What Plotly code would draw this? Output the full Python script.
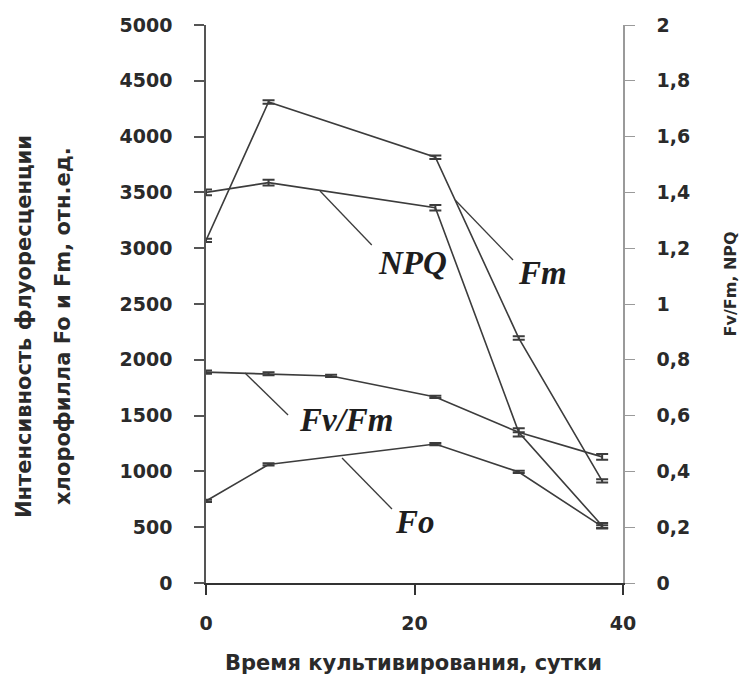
import plotly.graph_objects as go

# ---- data ----
days = [0, 6, 22, 30, 38]
fm = [3070, 4310, 3815, 2195, 915]
fm_err = [15, 15, 15, 15, 15]
fo = [735, 1062, 1245, 995, 505]
fo_err = [10, 10, 10, 10, 12]
npq = [1.40, 1.435, 1.345, 0.54, 0.205]
npq_err = [0.01, 0.01, 0.01, 0.0, 0.01]
days_fvfm = [0, 6, 12, 22, 30, 38]
fvfm = [0.756, 0.75, 0.742, 0.667, 0.54, 0.452]
fvfm_err = [0.006, 0.005, 0.004, 0.004, 0.015, 0.01]

left_ticks = [0, 500, 1000, 1500, 2000, 2500, 3000, 3500, 4000, 4500, 5000]
right_ticks = [0, 0.2, 0.4, 0.6, 0.8, 1.0, 1.2, 1.4, 1.6, 1.8, 2.0]
right_ticktext = ["0", "0,2", "0,4", "0,6", "0,8", "1", "1,2", "1,4", "1,6", "1,8", "2"]
x_ticks = [0, 20, 40]

LINE = "#3c3c3c"
TICKFONT = dict(family="DejaVu Sans", size=19, color="#2a2a2a", weight="bold")
LABELFONT = dict(family="Liberation Serif", size=33, color="#1e1e1e", weight="bold", style="italic")

fig = go.Figure()

def series(x, y, err, yaxis):
    fig.add_trace(go.Scatter(
        x=x, y=y, mode="lines", yaxis=yaxis,
        line=dict(color=LINE, width=1.6),
        error_y=dict(type="data", array=err, width=6, thickness=2, color=LINE),
        showlegend=False, hoverinfo="skip"))

series(days, fm, fm_err, "y")
series(days, fo, fo_err, "y")
series(days, npq, npq_err, "y2")
series(days_fvfm, fvfm, fvfm_err, "y2")

# leader lines (data coords on left axis)
leaders = [
    ((10.94, 3513), (15.9, 3029)),   # NPQ
    ((23.9, 3432), (29.45, 2894)),   # Fm
    ((3.74, 1882), (7.87, 1505)),    # Fv/Fm
    ((13.05, 1120), (17.84, 663)),   # Fo
]
for (x0, y0), (x1, y1) in leaders:
    fig.add_shape(type="line", xref="x", yref="y", x0=x0, y0=y0, x1=x1, y1=y1,
                  line=dict(color=LINE, width=1.3))

labels = [("NPQ", 19.76, 2867), ("Fm", 32.3, 2778), ("Fv/Fm", 13.5, 1460), ("Fo", 20.05, 547)]
for txt, x, y in labels:
    fig.add_annotation(text=txt, x=x, y=y, xref="x", yref="y", showarrow=False,
                       font=LABELFONT, xanchor="center", yanchor="middle")

# axis titles
TITLEFONT = dict(family="DejaVu Sans", size=21, color="#2a2a2a", weight="bold")
fig.add_annotation(text="Интенсивность флуоресценции", xref="paper", yref="paper",
                   x=-0.4365, y=0.4606, textangle=-90, showarrow=False, font=TITLEFONT,
                   xanchor="center", yanchor="middle")
fig.add_annotation(text="хлорофилла Fo и Fm, отн.ед.", xref="paper", yref="paper",
                   x=-0.343, y=0.4606, textangle=-90, showarrow=False, font=TITLEFONT,
                   xanchor="center", yanchor="middle")
fig.add_annotation(text="Fv/Fm, NPQ", xref="paper", yref="paper",
                   x=1.2566, y=0.535, textangle=-90, showarrow=False,
                   font=dict(family="DejaVu Sans", size=16, color="#2a2a2a", weight="bold"),
                   xanchor="center", yanchor="middle")
fig.add_annotation(text="Время культивирования, сутки", xref="paper", yref="paper",
                   x=0.497, y=-0.1436, showarrow=False, font=TITLEFONT,
                   xanchor="center", yanchor="middle")

fig.update_layout(
    width=749, height=677,
    margin=dict(l=206, r=126, t=25, b=94),
    paper_bgcolor="white", plot_bgcolor="white",
    xaxis=dict(range=[0, 40], tickvals=x_ticks, showgrid=False, zeroline=False,
               showline=True, linecolor="#333333", linewidth=1.5,
               ticks="outside", ticklen=10, tickwidth=1.5, tickcolor="#333333",
               tickfont=TICKFONT, ticklabelstandoff=12),
    yaxis=dict(range=[0, 5000], tickvals=left_ticks, showgrid=False, zeroline=False,
               showline=True, linecolor="#555555", linewidth=1.5,
               ticks="outside", ticklen=10, tickwidth=1.5, tickcolor="#555555",
               tickfont=TICKFONT, ticklabelstandoff=18),
    yaxis2=dict(range=[0, 2], tickvals=right_ticks, ticktext=right_ticktext,
                overlaying="y", side="right", showgrid=False, zeroline=False,
                showline=True, linecolor="#9a9a9a", linewidth=1.5,
                ticks="outside", ticklen=10, tickwidth=1.2, tickcolor="#9a9a9a",
                tickfont=TICKFONT, ticklabelstandoff=18),
)

fig.write_html("out.html")
